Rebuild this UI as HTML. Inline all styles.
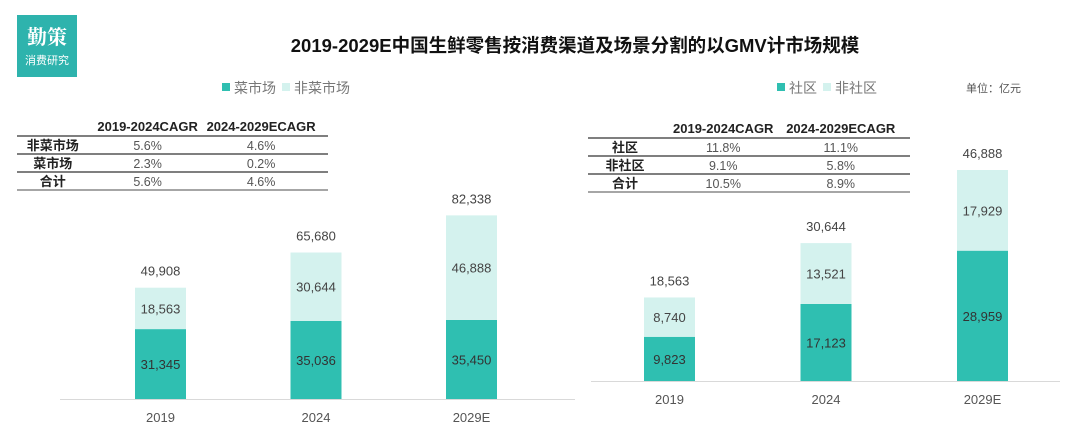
<!DOCTYPE html>
<html><head><meta charset="utf-8">
<style>
body{margin:0;width:1080px;height:438px;background:#fff;overflow:hidden;font-family:"Liberation Sans","Noto Sans CJK SC",sans-serif;}
svg text{font-family:"Liberation Sans","Noto Sans CJK SC",sans-serif;}
</style></head><body>
<svg id="c" width="1080" height="438" xmlns="http://www.w3.org/2000/svg">
<rect x="17" y="15" width="60" height="62" fill="#2eb3ad"/>
<text x="47" y="44" text-anchor="middle" font-size="20" font-weight="bold" fill="#fff" style="font-family:'Noto Serif CJK SC',serif">勤策</text>
<text x="47" y="64" text-anchor="middle" font-size="11" fill="#fff">消费研究</text>
<text x="575" y="52" text-anchor="middle" font-size="18.5" font-weight="bold" fill="#111">2019-2029E中国生鲜零售按消费渠道及场景分割的以GMV计市场规模</text>
<text x="966" y="92" font-size="11" fill="#555">单位：亿元</text>
<g id="g"></g>
</svg>
<script>
const catsA=["2019","2024","2029E"];
const darkA=[31345,35036,35450];
const lightA=[18563,30644,46888];
const totalA=[49908,65680,82338];
const catsB=["2019","2024","2029E"];
const darkB=[9823,17123,28959];
const lightB=[8740,13521,17929];
const totalB=[18563,30644,46888];
const tblA=[["非菜市场","5.6%","4.6%"],["菜市场","2.3%","0.2%"],["合计","5.6%","4.6%"]];
const tblB=[["社区","11.8%","11.1%"],["非社区","9.1%","5.8%"],["合计","10.5%","8.9%"]];
const NS="http://www.w3.org/2000/svg";
const g=document.getElementById('g');
function mk(t,a,txt){const e=document.createElementNS(NS,t);for(const k in a)e.setAttribute(k,a[k]);if(txt!==undefined)e.textContent=txt;g.appendChild(e);return e;}
const DARK="#2fbfb1",LIGHT="#d4f2ee";
function chart(cats,dark,light,total,base,k,x0,step,bw,axL,axR,legX,legN1,legN2,tbl,tx,tw,ty,pre){
  const y=v=>base-v*k;
  let e=mk('line',{x1:axL,x2:axR,y1:base+0.5,y2:base+0.5,stroke:'#d9d9d9','stroke-width':1});
  
  
  cats.forEach((c,i)=>{
    const x=x0+i*step;
    const yd=y(dark[i]), yl=y(dark[i]+light[i]);
    let r=mk('rect',{x:x,y:yd,width:bw,height:base-yd,fill:DARK});
    
    
    r=mk('rect',{x:x,y:yl,width:bw,height:yd-yl,fill:LIGHT});
    
    
    const cx=x+bw/2;
    let t=mk('text',{x:cx,y:(yd+base)/2+5,'text-anchor':'middle','font-size':13,fill:'#333'},dark[i].toLocaleString('en-US'));
    
    
    t=mk('text',{x:cx,y:(yl+yd)/2+5,'text-anchor':'middle','font-size':13,fill:'#444'},light[i].toLocaleString('en-US'));
    
    
    t=mk('text',{x:cx,y:yl-12,'text-anchor':'middle','font-size':13,fill:'#444'},total[i].toLocaleString('en-US'));
    
    
    t=mk('text',{x:cx,y:base+23,'text-anchor':'middle','font-size':13,fill:'#555'},c);
    
    
  });
  let l=mk('rect',{x:legX,y:83,width:8,height:8,fill:DARK});
  
  
  l=mk('text',{x:legX+12,y:93,'font-size':14,fill:'#777'},legN1);
  
  
  const lx2=legX+12+legN1.length*14+6;
  l=mk('rect',{x:lx2,y:83,width:8,height:8,fill:LIGHT});
  
  
  l=mk('text',{x:lx2+12,y:93,'font-size':14,fill:'#777'},legN2);
  
  
  const c1=tx+tw*0.115,c2=tx+tw*0.42,c3=tx+tw*0.785;
  let h=mk('text',{x:c2,y:ty,'text-anchor':'middle','font-size':13,'font-weight':'bold',fill:'#222'},'2019-2024CAGR');
  
  
  h=mk('text',{x:c3,y:ty,'text-anchor':'middle','font-size':13,'font-weight':'bold',fill:'#222'},'2024-2029ECAGR');
  
  
  tbl.forEach((row,i)=>{
    const ly=ty+5+i*18;
    let ln=mk('line',{x1:tx,x2:tx+tw,y1:ly,y2:ly,stroke:'#333','stroke-width':1.2});
    
    
    let t=mk('text',{x:c1,y:ly+14,'text-anchor':'middle','font-size':13,'font-weight':'bold',fill:'#222'},row[0]);
    
    
    t=mk('text',{x:c2,y:ly+14,'text-anchor':'middle','font-size':12.5,fill:'#555'},row[1]);
    
    
    t=mk('text',{x:c3,y:ly+14,'text-anchor':'middle','font-size':12.5,fill:'#555'},row[2]);
    
    
  });
  let ln=mk('line',{x1:tx,x2:tx+tw,y1:ty+59,y2:ty+59,stroke:'#888','stroke-width':1.5});
  
  
}
chart(catsA,darkA,lightA,totalA,399,0.00223,135,155.5,51,60,575,222,"菜市场","非菜市场",tblA,17,311,131,'left');
chart(catsB,darkB,lightB,totalB,381,0.0045,644,156.5,51,591,1060,777,"社区","非社区",tblB,588,322,133,'right');
</script>
</body></html>
